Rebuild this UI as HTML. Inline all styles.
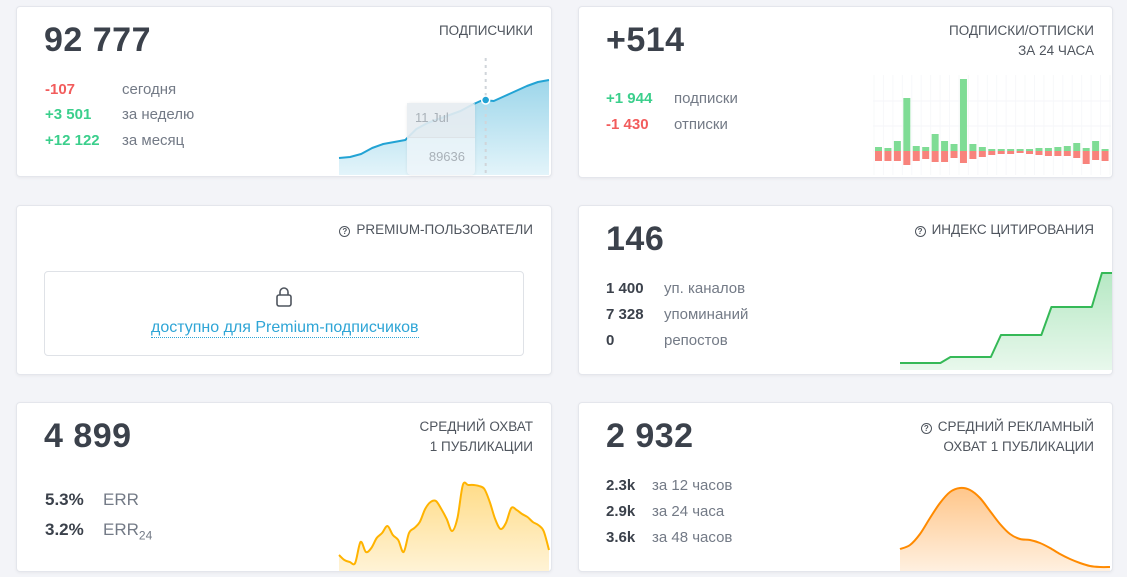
<!DOCTYPE html>
<html><head><meta charset="utf-8">
<style>
body{margin:0;width:1127px;height:577px;background:#f3f4f8;font-family:"Liberation Sans","DejaVu Sans",sans-serif;position:relative;overflow:hidden}
.card{position:absolute;background:#fff;border:1px solid #e4e6ec;border-radius:4px;box-shadow:0 1px 3px rgba(0,0,0,.05);overflow:hidden}
.t{position:absolute;white-space:nowrap}
.big{font-size:34px;font-weight:bold;color:#3b414b;letter-spacing:0.5px}
.hd{font-size:13.5px;color:#4f555e;text-align:right;right:17px;line-height:20px}
.v{font-size:15px;font-weight:bold}
.l{font-size:15px;color:#737a86}
.g{color:#3bcf8c}.r{color:#f25c5c}.d{color:#3b414b}
svg{position:absolute;left:0;top:0}
.q{display:inline-block;width:9px;height:9px;border:1.3px solid #4f555e;border-radius:50%;font-size:8px;line-height:9px;text-align:center;font-weight:bold;margin-right:6px;vertical-align:0px}
</style></head><body>

<div class="card" style="left:16px;top:6px;width:534px;height:169px"></div>
<div class="card" style="left:578px;top:6px;width:533px;height:170px"></div>
<div class="card" style="left:16px;top:205px;width:534px;height:168px"></div>
<div class="card" style="left:578px;top:205px;width:533px;height:168px"></div>
<div class="card" style="left:16px;top:402px;width:534px;height:168px"></div>
<div class="card" style="left:578px;top:402px;width:533px;height:168px"></div>

<svg width="1127" height="577">
<defs>
<linearGradient id="gb" x1="0" y1="0" x2="0" y2="1"><stop offset="0" stop-color="#9dd6ea"/><stop offset="1" stop-color="#e3f4fa"/></linearGradient>
<linearGradient id="gg" x1="0" y1="0" x2="0" y2="1"><stop offset="0" stop-color="#b6e8c4"/><stop offset="1" stop-color="#e8f8ec"/></linearGradient>
<linearGradient id="gy" x1="0" y1="0" x2="0" y2="1"><stop offset="0" stop-color="#ffdc88"/><stop offset="1" stop-color="#fff3d6"/></linearGradient>
<linearGradient id="go" x1="0" y1="0" x2="0" y2="1"><stop offset="0" stop-color="#ffc68a"/><stop offset="1" stop-color="#fff0e0"/></linearGradient>
</defs>
<g id="subs"></g><g id="bars"></g><g id="cit"></g><g id="reach"></g><g id="ad"></g>
</svg>

<!-- card 1 -->
<div class="t big" style="left:44px;top:21px">92 777</div>
<div class="t hd" style="right:594px;top:21px">ПОДПИСЧИКИ</div>
<div class="t v r" style="left:45px;top:81px">-107</div>
<div class="t l" style="left:122px;top:81px">сегодня</div>
<div class="t v g" style="left:45px;top:106px">+3 501</div>
<div class="t l" style="left:122px;top:106px">за неделю</div>
<div class="t v g" style="left:45px;top:132px">+12 122</div>
<div class="t l" style="left:122px;top:132px">за месяц</div>
<div class="t" style="left:407px;top:103px;width:68px;height:72px;border-radius:4px;background:rgba(240,246,249,.75);box-shadow:0 0 3px rgba(0,0,0,.08)">
 <div style="height:34px;background:rgba(225,232,236,.6);border-bottom:1px solid #dde3e7;font-size:13px;color:#a9b1b8;line-height:30px;padding-left:8px">11 Jul</div>
 <div style="font-size:13px;color:#a9b1b8;text-align:right;padding-right:10px;line-height:38px">89636</div>
</div>

<!-- card 2 -->
<div class="t big" style="left:606px;top:21px">+514</div>
<div class="t hd" style="right:33px;top:21px">ПОДПИСКИ/ОТПИСКИ<br>ЗА 24 ЧАСА</div>
<div class="t v g" style="left:606px;top:90px">+1 944</div>
<div class="t l" style="left:674px;top:90px">подписки</div>
<div class="t v r" style="left:606px;top:116px">-1 430</div>
<div class="t l" style="left:674px;top:116px">отписки</div>

<!-- card 3 -->
<div class="t hd" style="right:594px;top:220px"><span class="q">?</span>PREMIUM-ПОЛЬЗОВАТЕЛИ</div>
<div class="t" style="left:44px;top:271px;width:478px;height:83px;border:1px solid #dfe2e7;border-radius:4px"></div>
<svg style="left:274px;top:286px" width="20" height="22"><rect x="3" y="9" width="14" height="11" rx="2" fill="none" stroke="#4f555e" stroke-width="1.6"/><path d="M6 9V6a4 4 0 0 1 8 0v3" fill="none" stroke="#4f555e" stroke-width="1.6"/></svg>
<div class="t" style="left:151px;top:318px;font-size:16px;color:#2ea5d6;border-bottom:1px dotted #2ea5d6;line-height:19px">доступно для Premium-подписчиков</div>

<!-- card 4 -->
<div class="t big" style="left:606px;top:220px">146</div>
<div class="t hd" style="right:33px;top:220px"><span class="q">?</span>ИНДЕКС ЦИТИРОВАНИЯ</div>
<div class="t v d" style="left:606px;top:280px">1 400</div>
<div class="t l" style="left:664px;top:280px">уп. каналов</div>
<div class="t v d" style="left:606px;top:306px">7 328</div>
<div class="t l" style="left:664px;top:306px">упоминаний</div>
<div class="t v d" style="left:606px;top:332px">0</div>
<div class="t l" style="left:664px;top:332px">репостов</div>

<!-- card 5 -->
<div class="t big" style="left:44px;top:417px">4 899</div>
<div class="t hd" style="right:594px;top:417px">СРЕДНИЙ ОХВАТ<br>1 ПУБЛИКАЦИИ</div>
<div class="t d" style="left:45px;top:490px;font-size:17px;font-weight:bold">5.3%</div>
<div class="t l" style="left:103px;top:490px;font-size:17px">ERR</div>
<div class="t d" style="left:45px;top:520px;font-size:17px;font-weight:bold">3.2%</div>
<div class="t l" style="left:103px;top:520px;font-size:17px">ERR<sub style="font-size:12px">24</sub></div>

<!-- card 6 -->
<div class="t big" style="left:606px;top:417px">2 932</div>
<div class="t hd" style="right:33px;top:417px"><span class="q">?</span>СРЕДНИЙ РЕКЛАМНЫЙ<br>ОХВАТ 1 ПУБЛИКАЦИИ</div>
<div class="t v d" style="left:606px;top:477px">2.3k</div>
<div class="t l" style="left:652px;top:477px">за 12 часов</div>
<div class="t v d" style="left:606px;top:503px">2.9k</div>
<div class="t l" style="left:652px;top:503px">за 24 часа</div>
<div class="t v d" style="left:606px;top:529px">3.6k</div>
<div class="t l" style="left:652px;top:529px">за 48 часов</div>

<script>
const subscribers=[80530,80687,81158,82100,82728,83042,83356,85083,86025,86653,87281,87909,88851,89636,89479,90264,91049,91834,92462,92777];
const subsTooltipIndex=13;
const subsGained=[4,3,10,53,5,4,17,10,7,72,7,4,2,2,2,2,2,3,3,4,5,8,3,10,2];
const subsLost=[10,10,10,14,10,8,11,11,7,12,8,6,4,3,3,2,3,4,5,5,5,7,13,9,10];
const citation=[7,7,7,7,7,13,13,13,13,13,35,35,35,35,35,63,63,63,63,63,97,97];
const reach=[960,660,540,480,1740,1140,1380,1980,2280,2700,2160,1860,1140,2280,2580,2940,3720,4140,4200,3720,3120,2400,3180,5160,5160,5160,5100,4920,4140,3120,2520,2880,3780,3660,3420,3240,2940,2760,2400,1260];
const adReach=[22,26,37,53,68,79,83,81,73,60,47,37,32,31,28,23,17,12,8,5,4,4];

const NS="http://www.w3.org/2000/svg";
function mk(parent,tag,attrs){const e=document.createElementNS(NS,tag);for(const k in attrs)e.setAttribute(k,attrs[k]);parent.appendChild(e);return e;}
function linScale(d0,d1,r0,r1){return v=>r0+(v-d0)/(d1-d0)*(r1-r0);}
function smooth(pts){let d="M"+pts[0][0]+","+pts[0][1];for(let i=0;i<pts.length-1;i++){const p0=pts[i-1]||pts[i],p1=pts[i],p2=pts[i+1],p3=pts[i+2]||p2;const c1x=p1[0]+(p2[0]-p0[0])/6,c1y=p1[1]+(p2[1]-p0[1])/6,c2x=p2[0]-(p3[0]-p1[0])/6,c2y=p2[1]-(p3[1]-p1[1])/6;d+=` C${c1x},${c1y} ${c2x},${c2y} ${p2[0]},${p2[1]}`;}return d;}
function area(g,data,x0,x1,y0,y1,d0,d1,stroke,fill,name,curve){
  const xs=linScale(0,data.length-1,x0,x1),ys=linScale(d0,d1,y0,y1);
  const pts=data.map((v,i)=>[xs(i),ys(v)]);
  const line=curve?smooth(pts):"M"+pts.map(p=>p.join(",")).join(" L");
  const a=mk(g,"path",{d:line+` L${x1},${y0} L${x0},${y0} Z`,fill:fill});
  
  
  const l=mk(g,"path",{d:line,fill:"none",stroke:stroke,"stroke-width":2,"stroke-linejoin":"round"});
  
  
  return {xs,ys};
}
// subscribers
const sg=document.getElementById("subs");
const s=area(sg,subscribers,339,549,175,100,77861,89636,"#22a3d4","url(#gb)","subscribers",false);
const tx=s.xs(subsTooltipIndex)+3;
const vl=mk(sg,"line",{x1:tx,x2:tx,y1:58,y2:175,stroke:"#d0d5da","stroke-width":2,"stroke-dasharray":"3,4"});


const dot=mk(sg,"circle",{cx:tx,cy:s.ys(subscribers[subsTooltipIndex]),r:4,fill:"#22a3d4",stroke:"#fff","stroke-width":1.5});


// bars
const bg=document.getElementById("bars");
const bx=linScale(0,subsGained.length,875,1111),by=linScale(0,80,151,71);
for(let i=0;i<=subsGained.length;i++){const gl=mk(bg,"line",{x1:bx(i)-1,x2:bx(i)-1,y1:75,y2:175,stroke:"#f7f8fa","stroke-width":1});}
[0,25,50].forEach(v=>{const hl=mk(bg,"line",{x1:873,x2:1111,y1:by(v),y2:by(v),stroke:"#f5f6f9","stroke-width":1});});
subsGained.forEach((v,i)=>{const r=mk(bg,"rect",{x:bx(i),y:by(v),width:7,height:151-by(v),fill:"#7fdc95"});});
subsLost.forEach((v,i)=>{const r=mk(bg,"rect",{x:bx(i),y:151,width:7,height:by(-v)-151,fill:"#f8837c"});});
// citation
area(document.getElementById("cit"),citation,900,1112,370,273,0,97,"#35b957","url(#gg)","citation",false);
// reach
area(document.getElementById("reach"),reach,339,549,571,485,0,5160,"#ffb300","url(#gy)","reach",true);
// ad reach
area(document.getElementById("ad"),adReach,900,1110,571,488,0,83,"#ff8a00","url(#go)","ad-reach",true);
</script>
</body></html>
